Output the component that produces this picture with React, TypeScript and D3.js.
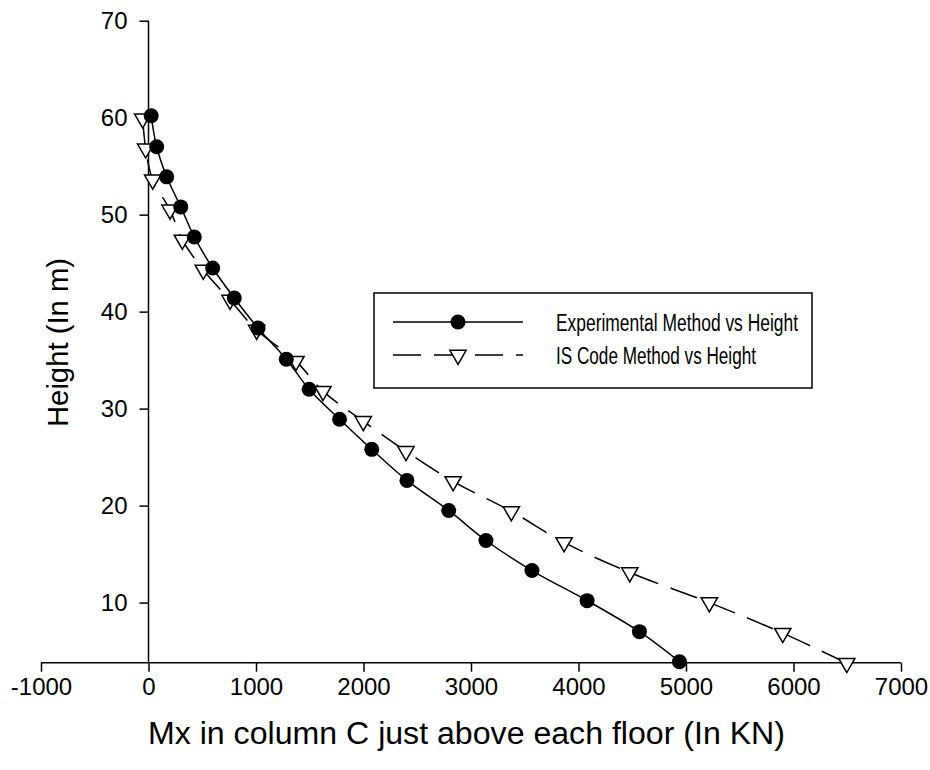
import React, { useRef, useEffect } from "react";
import * as d3 from "d3";

// heights (m) and moments (kN)
const expHeight = [60.2, 57.0, 53.9, 50.8, 47.7, 44.5, 41.4, 38.3, 35.1, 32.0, 28.9, 25.8, 22.6, 19.5, 16.4, 13.3, 10.2, 7.0, 3.9];
const expMoment = [25, 76, 169, 300, 426, 597, 798, 1019, 1282, 1494, 1777, 2077, 2404, 2793, 3139, 3567, 4080, 4567, 4939];

const isHeight = [59.9, 56.8, 53.6, 50.5, 47.4, 44.3, 41.2, 38.1, 34.9, 31.8, 28.7, 25.6, 22.5, 19.4, 16.2, 13.1, 10.0, 6.85, 3.75];
const isMoment = [-54, -26, 39, 200, 315, 510, 758, 1006, 1372, 1623, 1998, 2395, 2834, 3375, 3866, 4477, 5217, 5900, 6496];

const xTicks = [-1000, 0, 1000, 2000, 3000, 4000, 5000, 6000, 7000];
const yTicks = [10, 20, 30, 40, 50, 60, 70];

const seriesNames = ["Experimental Method vs Height", "IS Code Method vs Height"];

const FONT = "Liberation Sans, Arial, sans-serif";

const App = () => {
  const svgRef = useRef(null);

  useEffect(() => {
    document.body.style.margin = "0";
    const svg = d3.select(svgRef.current);
    svg.selectAll("*").remove();

    const x = d3.scaleLinear().domain([-1000, 7000]).range([41, 901]);
    const y = d3.scaleLinear().domain([3.8, 70]).range([662.7, 20.7]);

    const g = svg.append("g");

    // x axis, ticks pointing down
    const xAxis = g
      .append("g")
      .attr("transform", `translate(0,${y(3.8)})`)
      .call(
        d3
          .axisBottom(x)
          .tickValues(xTicks)
          .tickSize(9)
          .tickPadding(6)
          .tickFormat((d) => String(d))
      );
    xAxis.select(".domain").attr("d", `M${x(-1000)},0H${x(7000)}`).attr("stroke-width", 1.5);
    xAxis.selectAll(".tick line").attr("stroke-width", 1.5);
    xAxis.selectAll("text").attr("font-family", FONT).attr("font-size", 24).attr("fill", "#000");

    // y axis
    const yAxis = g
      .append("g")
      .attr("transform", `translate(${x(0)},0)`)
      .call(d3.axisLeft(y).tickValues(yTicks).tickSize(9).tickPadding(12));
    yAxis.select(".domain").attr("d", `M0,${y(70)}V${y(3.8)}`).attr("stroke-width", 1.5);
    yAxis.selectAll(".tick line").attr("stroke-width", 1.5);
    yAxis.selectAll("text").attr("font-family", FONT).attr("font-size", 24).attr("fill", "#000");

    const expData = expHeight.map((h, i) => [expMoment[i], h]);
    const isData = isHeight.map((h, i) => [isMoment[i], h]);

    const line = d3
      .line()
      .x((d) => x(d[0]))
      .y((d) => y(d[1]))
      .curve(d3.curveCatmullRom.alpha(0.5));

    g.append("path")
      .datum(isData)
      .attr("d", line)
      .attr("fill", "none")
      .attr("stroke", "#000")
      .attr("stroke-width", 1.5)
      .attr("stroke-dasharray", "28,13");

    g.append("path")
      .datum(expData)
      .attr("d", line)
      .attr("fill", "none")
      .attr("stroke", "#000")
      .attr("stroke-width", 1.5);

    const tri = d3.symbol().type(d3.symbolTriangle).size(115);

    g.selectAll(".tri")
      .data(isData)
      .enter()
      .append("path")
      .attr("class", "tri")
      .attr("d", tri)
      .attr("transform", (d) => `translate(${x(d[0])},${y(d[1])}) rotate(180)`)
      .attr("fill", "#fff")
      .attr("stroke", "#000")
      .attr("stroke-width", 1.5);

    g.selectAll(".dot")
      .data(expData)
      .enter()
      .append("circle")
      .attr("class", "dot")
      .attr("cx", (d) => x(d[0]))
      .attr("cy", (d) => y(d[1]))
      .attr("r", 7.5)
      .attr("fill", "#000");

    // legend
    const lg = g.append("g");
    lg.append("rect")
      .attr("x", 374)
      .attr("y", 293)
      .attr("width", 438)
      .attr("height", 95)
      .attr("fill", "#fff")
      .attr("stroke", "#000")
      .attr("stroke-width", 1.5);

    const rows = [322, 355];
    const textWidths = [242, 200];
    rows.forEach((ry, i) => {
      lg.append("line")
        .attr("x1", 393)
        .attr("x2", 523)
        .attr("y1", ry)
        .attr("y2", ry)
        .attr("stroke", "#000")
        .attr("stroke-width", 1.5)
        .attr("stroke-dasharray", i === 1 ? "28,13" : null);
      if (i === 0) {
        lg.append("circle").attr("cx", 458).attr("cy", ry).attr("r", 7.5).attr("fill", "#000");
      } else {
        lg.append("path")
          .attr("d", tri)
          .attr("transform", `translate(458,${ry}) rotate(180)`)
          .attr("fill", "#fff")
          .attr("stroke", "#000")
          .attr("stroke-width", 1.5);
      }
      lg.append("text")
        .attr("x", 556)
        .attr("y", ry + 8.5)
        .attr("font-family", FONT)
        .attr("font-size", 23.5)
        .attr("textLength", textWidths[i])
        .attr("lengthAdjust", "spacingAndGlyphs")
        .text(seriesNames[i]);
    });

    // axis titles
    g.append("text")
      .attr("x", 148)
      .attr("y", 744)
      .attr("font-family", FONT)
      .attr("font-size", 31)
      .attr("textLength", 637)
      .attr("lengthAdjust", "spacingAndGlyphs")
      .text("Mx in column C just above each floor (In KN)");

    g.append("text")
      .attr("transform", "translate(68,427) rotate(-90)")
      .attr("font-family", FONT)
      .attr("font-size", 30)
      .attr("textLength", 169)
      .attr("lengthAdjust", "spacingAndGlyphs")
      .text("Height (In m)");
  }, []);

  return <svg ref={svgRef} width="930" height="770" style={{ display: "block", background: "#fff" }}></svg>;
};

export default App;
